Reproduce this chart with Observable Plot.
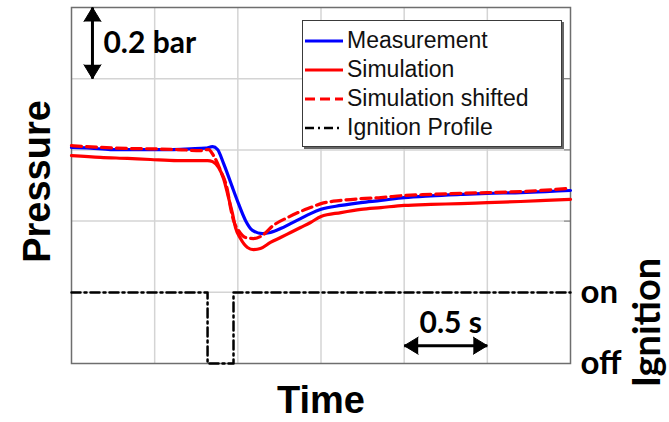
<!DOCTYPE html>
<html>
<head>
<meta charset="utf-8">
<script src="https://cdn.jsdelivr.net/npm/d3@7"></script>
<script src="https://cdn.jsdelivr.net/npm/@observablehq/plot@0.6"></script>
<style>
  html, body { margin: 0; padding: 0; background: #fff; }
  #chart { position: relative; width: 669px; height: 422px; overflow: hidden; }
  #chart svg { position: absolute; left: 0; top: 0; }
  .legend {
    position: absolute; left: 302px; top: 20px; width: 258px; height: 125px;
    background: #fff; border: 1px solid #3a3a3a; box-shadow: 2px 2px 0 #666;
    font-family: "Liberation Sans", Arial, sans-serif; font-size: 23px; color: #111;
    z-index: 5;
  }
  .legend .row { position: absolute; left: 2px; height: 29px; display: flex; align-items: center; white-space: nowrap; }
  .legend svg { position: static !important; margin-right: 4px; }
</style>
</head>
<body>
<div id="chart"></div>
<script>
// Time axis in seconds, pressure in bar (relative; 0.2 bar per grid division)
const timeMeasurement = [0, 0.114, 0.234, 0.355, 0.475, 0.595, 0.715, 0.806, 0.848, 0.878, 0.914, 0.944, 0.968, 1.004, 1.046, 1.088, 1.148, 1.196, 1.257, 1.317, 1.377, 1.437, 1.50, 1.62, 1.74, 1.86, 2.00, 2.16, 2.34, 2.50, 2.70, 2.85, 3.00];
const pressureMeasurement = [0.607, 0.605, 0.601, 0.601, 0.601, 0.601, 0.603, 0.605, 0.609, 0.601, 0.562, 0.525, 0.494, 0.449, 0.402, 0.374, 0.365, 0.368, 0.379, 0.393, 0.407, 0.421, 0.433, 0.444, 0.452, 0.458, 0.466, 0.471, 0.475, 0.478, 0.480, 0.483, 0.486];

const timeSimulation = [0, 0.174, 0.337, 0.475, 0.637, 0.818, 0.848, 0.884, 0.914, 0.944, 0.968, 0.986, 1.016, 1.058, 1.094, 1.136, 1.196, 1.257, 1.317, 1.377, 1.437, 1.50, 1.62, 1.74, 1.86, 2.00, 2.16, 2.34, 2.50, 2.70, 2.85, 3.00];
const pressureSimulation = [0.584, 0.579, 0.576, 0.573, 0.570, 0.570, 0.567, 0.551, 0.520, 0.466, 0.421, 0.382, 0.351, 0.326, 0.320, 0.323, 0.340, 0.354, 0.368, 0.382, 0.396, 0.413, 0.424, 0.433, 0.438, 0.444, 0.447, 0.449, 0.452, 0.455, 0.458, 0.461];

const timeShifted = [0, 0.174, 0.337, 0.475, 0.637, 0.776, 0.824, 0.854, 0.896, 0.938, 0.956, 0.974, 1.004, 1.046, 1.094, 1.148, 1.214, 1.299, 1.377, 1.437, 1.50, 1.62, 1.74, 1.86, 2.00, 2.16, 2.34, 2.50, 2.70, 2.85, 3.00];
const pressureShifted = [0.612, 0.607, 0.604, 0.603, 0.601, 0.598, 0.601, 0.584, 0.542, 0.486, 0.438, 0.402, 0.374, 0.354, 0.351, 0.360, 0.388, 0.410, 0.427, 0.438, 0.449, 0.458, 0.463, 0.466, 0.472, 0.475, 0.478, 0.480, 0.483, 0.487, 0.492];

const ignitionTime = [0, 0.818, 0.974, 3.0];
const ignitionState = ["on", "off", "on", "on"];
const ignitionLevels = ["off", "on"];

const timeGrid = [0.5, 1.0, 1.5, 2.0, 2.5];
const pressureGrid = [0.2, 0.4, 0.6, 0.8];

const seriesNames = ["Measurement", "Simulation", "Simulation shifted", "Ignition Profile"];

// scale bars: 0.2 bar vertical, 0.5 s horizontal
const pressureBar = 0.2;
const timeBar = 0.5;

// ---- layout ----
const W = 669, H = 422;
const mL = 71, mR = 99, mT = 7, mB = 59;
const BLUE = "#0000ff", RED = "#ff0000";
const labelFont = "Lato, 'Open Sans', sans-serif";
const titleFont = "'Liberation Sans', Arial, sans-serif";

const zip = (ts, ps) => ts.map((t, i) => ({t, p: ps[i]}));
const measured = zip(timeMeasurement, pressureMeasurement);
const simulated = zip(timeSimulation, pressureSimulation);
const shifted = zip(timeShifted, pressureShifted);
const ignition = ignitionTime.map((t, i) => ({t, state: ignitionState[i]}));

const barX = 0.126, barTop = 1.0;
const spanY = 0.05, spanStart = 2.0;
const scaleLinks = [
  {x1: barX, y1: barTop - pressureBar, x2: barX, y2: barTop},
  {x1: spanStart, y1: spanY, x2: spanStart + timeBar, y2: spanY}
];
const heads = [
  {x: barX, y: barTop, rotate: 0},
  {x: barX, y: barTop - pressureBar, rotate: 180},
  {x: spanStart + timeBar, y: spanY, rotate: 90},
  {x: spanStart, y: spanY, rotate: -90}
];

const pressurePlot = Plot.plot({
  width: W, height: H,
  marginLeft: mL, marginRight: mR, marginTop: mT, marginBottom: mB,
  style: {background: "white", overflow: "visible"},
  x: {domain: [0, 3], axis: null},
  y: {domain: [0, 1], axis: null},
  marks: [
    Plot.gridX({ticks: timeGrid, stroke: "#d4d4d4", strokeOpacity: 1, strokeWidth: 1.5}),
    Plot.gridY({ticks: pressureGrid, stroke: "#d4d4d4", strokeOpacity: 1, strokeWidth: 1.5}),
    Plot.axisY({anchor: "right", ticks: pressureGrid.slice(1), tickSize: 7, dx: -7, tickFormat: () => "", label: null, stroke: "#777"}),
    Plot.frame({stroke: "#6e6e6e", strokeWidth: 1.5}),
    Plot.line(simulated, {x: "t", y: "p", stroke: RED, strokeWidth: 3.2, curve: "monotone-x"}),
    Plot.line(measured, {x: "t", y: "p", stroke: BLUE, strokeWidth: 3.2, curve: "monotone-x"}),
    Plot.line(shifted, {x: "t", y: "p", stroke: RED, strokeWidth: 3.2, strokeDasharray: "10,5", curve: "monotone-x"}),
    Plot.link(scaleLinks, {x1: "x1", y1: "y1", x2: "x2", y2: "y2", stroke: "black", strokeWidth: 3}),
    Plot.vector(heads, {x: "x", y: "y", rotate: "rotate", length: 14, r: 8.5, shape: "spike", anchor: "end", fill: "black", stroke: "black", strokeWidth: 1}),
    Plot.text([`${pressureBar} bar`], {x: barX, y: barTop - pressureBar / 2, dx: 11, textAnchor: "start", fontSize: 30, fontWeight: "bold", fontFamily: labelFont, fill: "black"}),
    Plot.text([`${timeBar} s`], {x: spanStart + timeBar / 2, y: spanY, dx: 5, dy: -22, fontSize: 30, fontWeight: "bold", fontFamily: labelFont, fill: "black"}),
    Plot.text(["Time"], {frameAnchor: "bottom", dy: 37, lineAnchor: "middle", textAnchor: "middle", fontSize: 38, fontWeight: "bold", fontFamily: titleFont, fill: "black"}),
    Plot.text(["Pressure"], {frameAnchor: "left", dx: -33.5, dy: -4, rotate: -90, lineAnchor: "middle", textAnchor: "middle", fontSize: 38, fontWeight: "bold", fontFamily: titleFont, fill: "black"})
  ]
});

const ignitionPlot = Plot.plot({
  width: W, height: H,
  marginLeft: mL, marginRight: mR, marginTop: mT, marginBottom: mB,
  style: {background: "transparent", overflow: "visible"},
  x: {domain: [0, 3], axis: null},
  y: {type: "point", domain: ignitionLevels, padding: 0, range: [H - mB, H - mB - (H - mT - mB) / 5], axis: null},
  marks: [
    Plot.axisY({anchor: "right", tickSize: 0, tickPadding: 10, label: null, fontSize: 33, fontWeight: "bold", fontFamily: labelFont, fill: "black"}),
    Plot.line(ignition, {x: "t", y: "state", curve: "step-after", stroke: "black", strokeWidth: 2.5, strokeDasharray: "9,4,2,4"}),
    Plot.text(["Ignition"], {frameAnchor: "bottom-right", dx: 77, dy: -41, rotate: -90, lineAnchor: "middle", textAnchor: "middle", fontSize: 38, fontWeight: "bold", fontFamily: labelFont, fill: "black"})
  ]
});

const chart = document.getElementById("chart");
chart.appendChild(pressurePlot);
chart.appendChild(ignitionPlot);

// legend
const legend = document.createElement("div");
legend.className = "legend";
const swatches = [
  {stroke: BLUE, dash: null, width: 3},
  {stroke: RED, dash: null, width: 3},
  {stroke: RED, dash: "10,5", width: 3},
  {stroke: "black", dash: "9,4,2,4", width: 2.5}
];
seriesNames.forEach((name, i) => {
  const row = document.createElement("div");
  row.className = "row";
  row.style.top = (5 + i * 29) + "px";
  const sw = swatches[i];
  row.innerHTML = `<svg width="38" height="10"><line x1="0" x2="38" y1="5" y2="5" stroke="${sw.stroke}" stroke-width="${sw.width}" ${sw.dash ? `stroke-dasharray="${sw.dash}"` : ""}/></svg><span>${name}</span>`;
  legend.appendChild(row);
});
chart.appendChild(legend);
</script>
</body>
</html>
